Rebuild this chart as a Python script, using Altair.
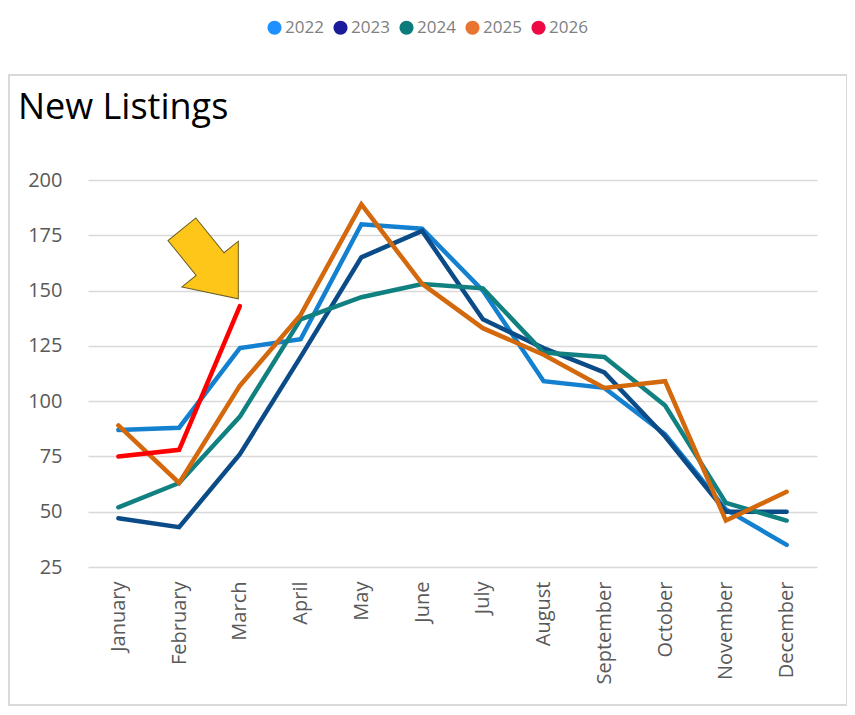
import altair as alt
import pandas as pd

months = ["January", "February", "March", "April", "May", "June", "July",
          "August", "September", "October", "November", "December"]
years = ["2022", "2023", "2024", "2025", "2026"]

v2022 = [87, 88, 124, 128, 180, 178, 150, 109, 106, 85, 51, 35]
v2023 = [47, 43, 76, 120, 165, 177, 137, 124, 113, 84, 50, 50]
v2024 = [52, 63, 93, 137, 147, 153, 151, 122, 120, 98, 54, 46]
v2025 = [89, 63, 107, 139, 189, 153, 133, 121, 106, 109, 46, 59]
v2026 = [75, 78, 143]

line_colors = ["#1380D0", "#0B4C88", "#118080", "#D3680C", "#FF0000"]
legend_colors = ["#1E90FF", "#1A1A9C", "#0B7B7B", "#E8742F", "#EE0844"]

title_text = ["New Listings"]
arrow_month_index = [1.51]
arrow_value = [162]

series = {"2022": v2022, "2023": v2023, "2024": v2024, "2025": v2025, "2026": v2026}
rows = []
for y in years:
    for i, v in enumerate(series[y]):
        rows.append({"year": y, "m": i, "month": months[i], "value": v})
df = pd.DataFrame(rows)

label_expr = "[" + ",".join("'%s'" % m for m in months) + "][datum.value]"
FONT = "Open Sans"

xscale = alt.Scale(domain=[-0.5, 11.5], nice=False, zero=False)
yscale = alt.Scale(domain=[25, 200], nice=False, zero=False)

x_axis = alt.Axis(values=list(range(12)), labelExpr=label_expr, labelAngle=-90,
                  labelPadding=14, labelFontSize=20, labelFont=FONT, labelColor="#595959",
                  grid=False, ticks=False, domain=False, title=None,
                  labelOverlap=False, labelFlush=False)
y_axis = alt.Axis(values=[25, 50, 75, 100, 125, 150, 175, 200], labelFontSize=20,
                  labelFont=FONT, labelColor="#595959", labelPadding=26,
                  grid=True, gridColor="#D9D9D9", gridWidth=1.5,
                  ticks=False, domain=False, title=None)

# stroke scale: data-driven domain (sorted years) so it is not merged with the legend scale
lines = alt.Chart(df).mark_line(strokeWidth=4.5, strokeCap="round").encode(
    x=alt.X("m:Q", scale=xscale, axis=x_axis),
    y=alt.Y("value:Q", scale=yscale, axis=y_axis),
    stroke=alt.Stroke("year:N", scale=alt.Scale(range=line_colors), legend=None),
    detail="year:N",
)

legend_df = pd.DataFrame({"year": years})
legend_layer = alt.Chart(legend_df).mark_point(filled=True, opacity=0).encode(
    fill=alt.Fill("year:N", scale=alt.Scale(domain=years, range=legend_colors),
                  legend=alt.Legend(title=None, orient="none", legendX=178, legendY=-161,
                                    direction="horizontal", symbolType="circle",
                                    symbolSize=200, symbolStrokeWidth=0, symbolOpacity=1,
                                    labelFontSize=17, labelFont=FONT, labelColor="#808080",
                                    columnPadding=8, labelOffset=2)),
)

arrow_df = pd.DataFrame({"m": arrow_month_index, "value": arrow_value})
arrow_path = "M -1 -0.4 L 0 -0.4 L 0 -0.81 L 1 0 L 0 0.81 L 0 0.4 L -1 0.4 Z"
arrow = alt.Chart(arrow_df).mark_point(
    shape=arrow_path, filled=True, fill="#FFC61A", stroke="#6B5B1E",
    strokeWidth=1, size=8028, angle=51, opacity=1
).encode(
    x=alt.X("m:Q", scale=xscale),
    y=alt.Y("value:Q", scale=yscale),
)

title_df = pd.DataFrame({"t": title_text})
title = alt.Chart(title_df).mark_text(
    align="left", baseline="alphabetic", fontSize=36, font=FONT, color="#000000"
).encode(x=alt.value(-70), y=alt.value(-61), text="t:N")

frame_df = pd.DataFrame({"k": [0]})
frame = alt.Chart(frame_df).mark_rect(
    fillOpacity=0, stroke="#D9D9D9", strokeWidth=2
).encode(x=alt.value(-79), x2=alt.value(759), y=alt.value(-105), y2=alt.value(525))

chart = alt.layer(frame, lines, arrow, legend_layer, title).properties(
    width=729, height=387,
    padding={"left": 80, "top": 172, "right": 30, "bottom": 140},
    autosize=alt.AutoSizeParams(type="none"),
    background="white",
).configure_view(strokeWidth=0)

chart.save("out.html", embed_options={"renderer": "svg", "actions": False})
